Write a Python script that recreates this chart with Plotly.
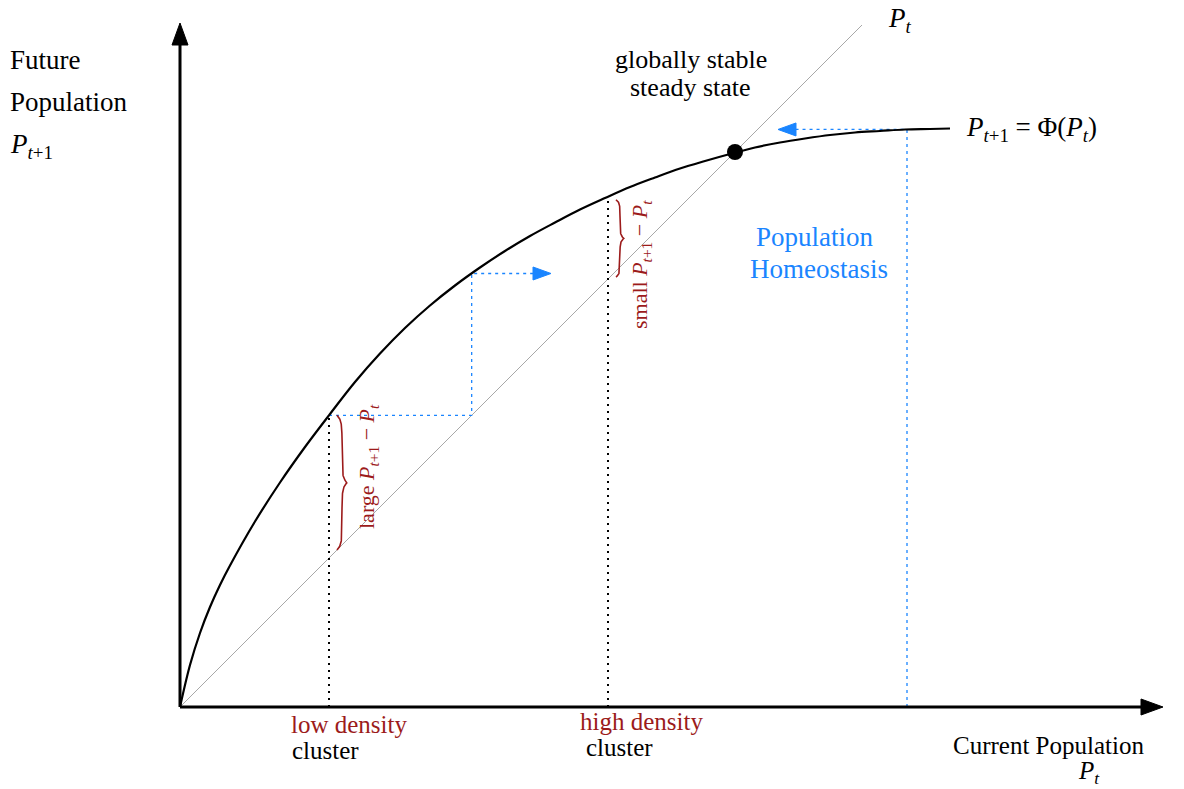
import numpy as np
import plotly.graph_objects as go

# ---- data (units: origin at axes corner, same scale on both axes) ----
curve_x = [0, 10, 20, 30, 40, 50, 75, 100, 125, 150, 175, 200, 225, 250, 275, 300, 325, 350,
           375, 400, 425, 450, 475, 500, 525, 550, 575, 600, 625, 650, 675, 700, 725, 750, 770]
curve_y = [0, 42, 74, 100, 122, 141.5, 185.5, 224.5, 260, 293, 325, 353.5, 379, 401.5, 421.5,
           439.5, 456, 471, 484.5, 497.5, 509, 520, 529.5, 538.5, 546, 553, 559.5, 564.5, 568.5,
           572, 574.5, 576, 577.5, 578, 578.5]
diag_end = 682
steady_state = 555
low_x = 149
high_x = 428
homeo_x = 727
cobweb_arrow_end = 371
homeo_arrow_end = 598
x_axis_end = 983
y_axis_end = 684

BLUE = "#1a85ff"
RED = "#9c1b1b"
FONT = "Liberation Serif"

cx = np.array(curve_x, float)
cy = np.array(curve_y, float)
phi = lambda v: float(np.interp(v, cx, cy))

fig = go.Figure()

def line(xs, ys, color, width, dash="solid"):
    fig.add_trace(go.Scatter(x=xs, y=ys, mode="lines", hoverinfo="skip",
                             line=dict(color=color, width=width, dash=dash)))

def arrowhead(tip, direction, length, half_w, color):
    tx, ty = tip
    dx, dy = direction
    bx, by = tx - dx * length, ty - dy * length
    px, py = -dy, dx
    xs = [tx, bx + px * half_w, bx - px * half_w, tx]
    ys = [ty, by + py * half_w, by - py * half_w, ty]
    fig.add_trace(go.Scatter(x=xs, y=ys, mode="lines", fill="toself", fillcolor=color,
                             line=dict(color=color, width=1), hoverinfo="skip"))

def brace(x0, y_a, y_b, w, color):
    s = np.linspace(0, 1, 300)
    d_end = np.minimum(s, 1 - s)
    d_mid = np.abs(s - 0.5)
    k = 0.035
    xs = x0 + 0.5 * w * (1 - np.exp(-d_end / k)) + 0.5 * w * np.exp(-d_mid / k)
    ys = y_a + (y_b - y_a) * s
    line(xs, ys, color, 1.6)

# diagonal P_t
line([0, diag_end], [0, diag_end], "#a8a8a8", 1)

# dotted cluster markers
line([low_x, low_x], [0, phi(low_x)], "black", 2, "2px,5px")
line([high_x, high_x], [0, phi(high_x)], "black", 2, "2px,5px")

# cobweb (low density)
y1 = phi(low_x)
line([low_x, y1, y1, cobweb_arrow_end - 15], [y1, y1, phi(y1), phi(y1)], BLUE, 1.3, "3px,4px")
arrowhead((cobweb_arrow_end, phi(y1)), (1, 0), 18, 6.5, BLUE)

# homeostasis
yh = phi(homeo_x)
line([homeo_x, homeo_x, homeo_arrow_end + 15], [0, yh, yh], BLUE, 1.3, "3px,4px")
arrowhead((homeo_arrow_end, yh), (-1, 0), 18, 6.5, BLUE)

# curve
fig.add_trace(go.Scatter(x=curve_x, y=curve_y, mode="lines",
                         line=dict(color="black", width=2.2, shape="spline", smoothing=1.0),
                         hoverinfo="skip"))

# steady state dot
fig.add_trace(go.Scatter(x=[steady_state], y=[steady_state], mode="markers",
                         marker=dict(color="black", size=16), hoverinfo="skip"))

# braces
brace(low_x + 8, phi(low_x), low_x + 8, 10, RED)
brace(high_x + 8, phi(high_x) - 3, high_x + 2, 8, RED)

# axes
line([0, x_axis_end - 18], [0, 0], "black", 3)
line([0, 0], [0, y_axis_end - 18], "black", 3)
arrowhead((x_axis_end, 0), (1, 0), 22, 8, "black")
arrowhead((0, y_axis_end), (0, 1), 22, 8, "black")

# ---- text ----
def P(px, py):
    return px - 180, 707 - py

def text(t, px, py, size=27, color="black", xanchor="left", angle=0):
    x, y = P(px, py)
    fig.add_annotation(x=x, y=y, text=t, showarrow=False, xanchor=xanchor, yanchor="middle",
                       textangle=angle, font=dict(family=FONT, size=size, color=color))

text("Future", 8, 60)
text("Population", 8, 102)
text("<i>P</i><sub><i>t</i>+1</sub>", 8, 146)
text("globally stable", 691, 59, size=26, xanchor="center")
text("steady state", 690, 87, size=26, xanchor="center")
text("<i>P</i><sub><i>t</i></sub>", 886, 20)
text("<i>P</i><sub><i>t</i>+1</sub> = Φ(<i>P</i><sub><i>t</i></sub>)", 964, 129)
text("Population", 815, 237, color=BLUE, xanchor="center")
text("Homeostasis", 819, 269, color=BLUE, xanchor="center")
text("low density", 289, 724, size=25, color=RED)
text("cluster", 290, 750, size=25)
text("high density", 578, 721, size=25, color=RED)
text("cluster", 584, 747, size=25)
text("Current Population", 951, 745, size=25)
text("<i>P</i><sub><i>t</i></sub>", 1076, 772, size=25)
text("large <i>P</i><sub><i>t</i>+1</sub> − <i>P</i><sub><i>t</i></sub>", 368, 467, size=22, color=RED, xanchor="center", angle=-90)
text("small <i>P</i><sub><i>t</i>+1</sub> − <i>P</i><sub><i>t</i></sub>", 641, 265, size=22, color=RED, xanchor="center", angle=-90)

fig.update_layout(width=1184, height=789, margin=dict(l=0, r=0, t=0, b=0),
                  plot_bgcolor="white", paper_bgcolor="white", showlegend=False,
                  xaxis=dict(range=[-180, 1004], visible=False, fixedrange=True),
                  yaxis=dict(range=[-82, 707], visible=False, fixedrange=True))

fig.write_html("out.html", config={"displayModeBar": False},
               post_script="document.body.style.margin='0px';")
